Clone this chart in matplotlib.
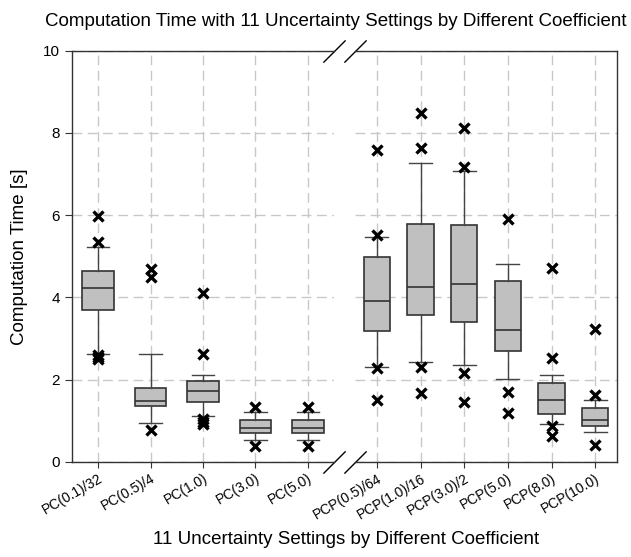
import matplotlib
matplotlib.use('Agg')
import matplotlib.pyplot as plt
import matplotlib.transforms as mtransforms

plt.rcParams['font.family'] = ['Liberation Sans', 'DejaVu Sans']

# --- data ---
labels = ['PC(0.1)/32', 'PC(0.5)/4', 'PC(1.0)', 'PC(3.0)', 'PC(5.0)',
          'PCP(0.5)/64', 'PCP(1.0)/16', 'PCP(3.0)/2', 'PCP(5.0)', 'PCP(8.0)', 'PCP(10.0)']
whislo = [2.61, 0.94, 1.12, 0.52, 0.52, 2.30, 2.43, 2.36, 2.01, 0.91, 0.72]
q1 = [3.68, 1.35, 1.46, 0.70, 0.70, 3.19, 3.57, 3.39, 2.69, 1.16, 0.86]
med = [4.23, 1.48, 1.72, 0.82, 0.82, 3.92, 4.26, 4.32, 3.21, 1.51, 1.01]
q3 = [4.65, 1.80, 1.96, 1.01, 1.01, 4.99, 5.79, 5.76, 4.40, 1.91, 1.31]
whishi = [5.23, 2.61, 2.11, 1.22, 1.22, 5.47, 7.26, 7.07, 4.81, 2.11, 1.51]
fliers = [[5.98, 5.35, 2.60, 2.54, 2.49],
          [4.70, 4.50, 0.76],
          [4.11, 2.61, 1.03, 0.96, 0.91],
          [1.32, 0.37],
          [1.32, 0.37],
          [7.58, 5.52, 2.28, 1.50],
          [8.48, 7.64, 2.31, 1.66],
          [8.11, 7.16, 2.17, 1.46],
          [5.91, 1.70, 1.18],
          [4.71, 2.52, 0.88, 0.62],
          [3.22, 1.62, 0.41]]
n_left = 5

stats = [dict(label=labels[i], whislo=whislo[i], q1=q1[i], med=med[i],
              q3=q3[i], whishi=whishi[i], fliers=fliers[i])
         for i in range(len(labels))]

fig = plt.figure(figsize=(6.31, 5.57), dpi=100)
W, H = 631, 557
ax_l = fig.add_axes([72 / W, 1 - 461.7 / H, 262 / W, 411 / H])
ax_r = fig.add_axes([355 / W, 1 - 461.7 / H, 262 / W, 411 / H], sharey=ax_l)

edge = '#333333'
grid_kw = dict(color='#c8c8c8', linestyle=(0, (7, 4)), linewidth=1.0)


def draw(ax, st, capw):
    pos = list(range(1, len(st) + 1))
    ax.bxp(st, positions=pos, widths=0.6, capwidths=capw, patch_artist=True,
           boxprops=dict(facecolor='#c0c0c0', edgecolor=edge, linewidth=1.2),
           medianprops=dict(color=edge, linewidth=1.2),
           whiskerprops=dict(color='#444444', linewidth=1.0),
           capprops=dict(color='#444444', linewidth=1.0),
           flierprops=dict(marker='x', markersize=6.5, markeredgewidth=2.4,
                           markeredgecolor='black', linestyle='none'))
    ax.set_xlim(0.5, len(st) + 0.5)
    ax.set_ylim(0, 10)
    ax.set_yticks([0, 2, 4, 6, 8, 10])
    ax.grid(True, **grid_kw)
    ax.set_axisbelow(True)
    ax.set_xticks(pos)
    ax.set_xticklabels([s['label'] for s in st], rotation=30, ha='right',
                       rotation_mode='anchor', fontsize=10)
    # nudge labels so their end sits just right of the tick
    off = mtransforms.ScaledTranslation(4 / 100, 0, fig.dpi_scale_trans)
    for t in ax.get_xticklabels():
        t.set_transform(t.get_transform() + off)
    ax.tick_params(axis='x', direction='out', length=4, color='#333333', pad=3)
    for sp in ax.spines.values():
        sp.set_color('#333333')
        sp.set_linewidth(1.0)


draw(ax_l, stats[:n_left], 0.43)
draw(ax_r, stats[n_left:], 0.53)

ax_l.spines['right'].set_visible(False)
ax_r.spines['left'].set_visible(False)
ax_r.tick_params(axis='y', left=False, labelleft=False)
ax_l.tick_params(axis='y', direction='out', length=5, labelsize=11, color='#333333')
ax_l.set_ylabel('Computation Time [s]', fontsize=13.5, labelpad=11)

# break marks
kw = dict(marker=[(-1, -1), (1, 1)], markersize=16, linestyle='none',
          color='black', mec='black', mew=1, clip_on=False)
ax_l.plot([1, 1], [0, 1], transform=ax_l.transAxes, **kw)
ax_r.plot([0, 0], [0, 1], transform=ax_r.transAxes, **kw)

fig.text(335.5 / W, 1 - 22 / H, 'Computation Time with 11 Uncertainty Settings by Different Coefficient',
         ha='center', va='center', fontsize=13.5)
fig.text(346 / W, 1 - 540 / H, '11 Uncertainty Settings by Different Coefficient',
         ha='center', va='center', fontsize=13.5)

fig.savefig('out.png', dpi=100)
